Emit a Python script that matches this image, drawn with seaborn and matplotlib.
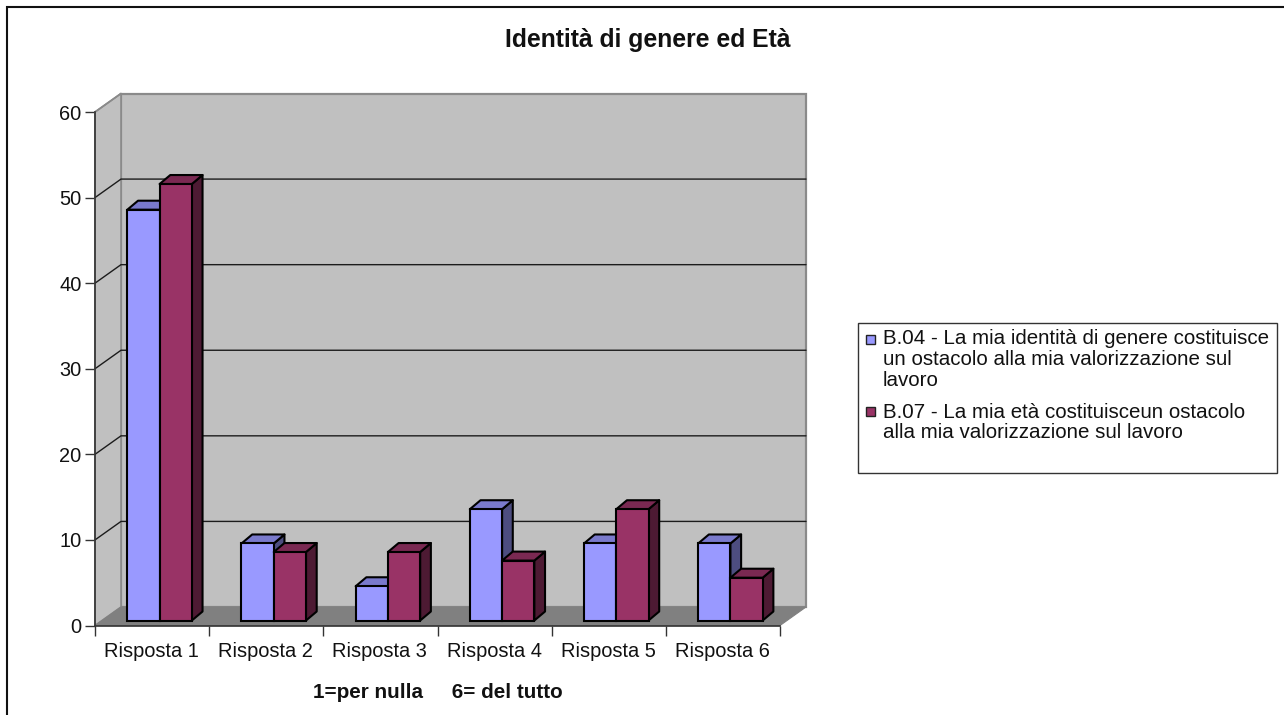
import matplotlib
matplotlib.use("Agg")
import matplotlib.pyplot as plt
from matplotlib.colors import to_hex
from matplotlib.lines import Line2D
from matplotlib.patches import Polygon, Rectangle
import pandas as pd
import seaborn as sns

categories = ["Risposta 1", "Risposta 2", "Risposta 3", "Risposta 4", "Risposta 5", "Risposta 6"]
series_b04 = [48, 9, 4, 13, 9, 9]
series_b07 = [51, 8, 8, 7, 13, 5]
name_b04 = "B.04 - La mia identità di genere costituisce\nun ostacolo alla mia valorizzazione sul\nlavoro"
name_b07 = "B.07 - La mia età costituisceun ostacolo\nalla mia valorizzazione sul lavoro"
y_ticks = [0, 10, 20, 30, 40, 50, 60]
title = "Identità di genere ed Età"
x_title = "1=per nulla     6= del tutto"

W, H = 1284, 715
sns.set_theme(style="white")
plt.rcParams["font.family"] = ["Liberation Sans", "DejaVu Sans"]
fig = plt.figure(figsize=(W / 100, H / 100), dpi=100, facecolor="white")


def rect(x0, y_top, x1, y_bot):
    return [x0 / W, 1 - y_bot / H, (x1 - x0) / W, (y_bot - y_top) / H]


# front plane of the 3D box
X0, X1, Y0, Y60 = 95, 780, 625.5, 112
ax = fig.add_axes(rect(X0, Y60, X1, Y0), facecolor="none", zorder=1)
ax.set_xlim(-0.5, 5.5)
ax.set_ylim(0, 60)
ux = (X1 - X0) / 6
uy = (Y0 - Y60) / 60
dx, dy = 26 / ux, 18.5 / uy  # box depth in data units

L, R = -0.5, 5.5
edge = "#8a8a8a"
ax.add_patch(Polygon([(L + dx, dy), (R + dx, dy), (R + dx, 60 + dy), (L + dx, 60 + dy)],
                     fc="#c0c0c0", ec=edge, lw=1.6, clip_on=False, zorder=1))
ax.add_patch(Polygon([(L, 0), (L + dx, dy), (L + dx, 60 + dy), (L, 60)],
                     fc="#c0c0c0", ec=edge, lw=1.2, clip_on=False, zorder=1.1))
ax.add_patch(Polygon([(L, 0), (R, 0), (R + dx, dy), (L + dx, dy)],
                     fc="#808080", ec="#808080", lw=0.8, clip_on=False, zorder=1.1))
for t in y_ticks[1:-1]:
    ax.plot([L, L + dx, R + dx], [t, t + dy, t + dy], color="#1c1c1c", lw=1.0,
            clip_on=False, zorder=1.2, solid_joinstyle="miter")
ax.plot([L, L + dx], [60, 60 + dy], color=edge, lw=1.2, clip_on=False, zorder=1.2)

ax.set_xticks([i - 0.5 for i in range(7)])
ax.set_xticklabels([])
ax.set_yticks(y_ticks)
ax.set_yticklabels([str(t) for t in y_ticks])
ax.tick_params(axis="y", direction="out", length=7.2, width=1.0, color="#333333",
               labelsize=14.4, labelcolor="#111111", pad=2.5, left=True)
ax.tick_params(axis="x", direction="out", length=7.2, width=1.0, color="#333333", bottom=True)
for s in ("top", "right"):
    ax.spines[s].set_visible(False)
for s in ("left", "bottom"):
    ax.spines[s].set_visible(True)
    ax.spines[s].set_color("#333333")
    ax.spines[s].set_linewidth(1.2)
    ax.spines[s].set_zorder(1.3)
for i, c in enumerate(categories):
    ax.text(i - 0.005, -2.98, c, ha="center", va="center", fontsize=14.4, color="#111111", clip_on=False)

# bars: front faces sit a little inside the box depth
off_x, off_y = 7.5, 5.0
ax2 = fig.add_axes(rect(X0 + off_x, Y60 - off_y, X1 + off_x, Y0 - off_y), facecolor="none", zorder=2)
df = pd.DataFrame({
    "cat": categories * 2,
    "val": series_b04 + series_b07,
    "ser": ["B.04"] * 6 + ["B.07"] * 6,
})
pal = {"B.04": "#9999ff", "B.07": "#993366"}
sns.barplot(data=df, x="cat", y="val", hue="ser", palette=pal, width=0.565, gap=0,
            saturation=1, edgecolor="black", linewidth=1.5, legend=False, ax=ax2, zorder=3)
ax2.set_xlim(-0.5, 5.5)
ax2.set_ylim(0, 60)
ax2.axis("off")
tops = {"#9999ff": "#7a7acc", "#993366": "#7a2952"}
sides = {"#9999ff": "#4d4d80", "#993366": "#4d1a33"}
ddx, ddy = 10.7 / ux, 9.0 / uy
bars = [p for p in ax2.patches if p.get_height() > 0]
bars.sort(key=lambda p: (round(p.get_x() * 100)))
for k, p in enumerate(bars):
    x0, w, h = p.get_x(), p.get_width(), p.get_height()
    hexc = to_hex(p.get_facecolor())
    z = 2 + k * 0.01
    p.set_zorder(z + 0.002)
    p.set_clip_on(False)
    ax2.add_patch(Polygon([(x0 + w, 0), (x0 + w + ddx, ddy), (x0 + w + ddx, h + ddy), (x0 + w, h)],
                          fc=sides[hexc], ec="black", lw=1.5, joinstyle="round", clip_on=False, zorder=z))
    ax2.add_patch(Polygon([(x0, h), (x0 + w, h), (x0 + w + ddx, h + ddy), (x0 + ddx, h + ddy)],
                          fc=tops[hexc], ec="black", lw=1.5, joinstyle="round", clip_on=False, zorder=z))

# whole-figure layer: frame (top and left edges only), titles, legend
fig.add_artist(Line2D([7 / W, 7 / W, 1], [0, 1 - 7 / H, 1 - 7 / H], transform=fig.transFigure,
                      color="#111111", lw=1.5, solid_joinstyle="miter"))
fig.text(647.5 / W, 1 - 40.5 / H, title, ha="center", va="center", fontsize=17.8, fontweight="bold", color="#111111")
fig.text(438 / W, 1 - 692 / H, x_title, ha="center", va="center", fontsize=14.9, fontweight="bold", color="#111111")

fig.add_artist(Rectangle((858 / W, 1 - 473 / H), (1277 - 858) / W, (473 - 323) / H, transform=fig.transFigure,
                         fc="white", ec="#333333", lw=1.0))
for yc, col, name, ty in ((339.5, "#9999ff", name_b04, 329.5), (411.5, "#993366", name_b07, 402.5)):
    fig.add_artist(Rectangle((866 / W, 1 - (yc + 4.5) / H), 9 / W, 9 / H, transform=fig.transFigure,
                             fc=col, ec="#222222", lw=1.0))
    fig.text(883 / W, 1 - ty / H, name, ha="left", va="top", fontsize=14.8, color="#111111", linespacing=1.13)

fig.savefig("out.png", dpi=100)
